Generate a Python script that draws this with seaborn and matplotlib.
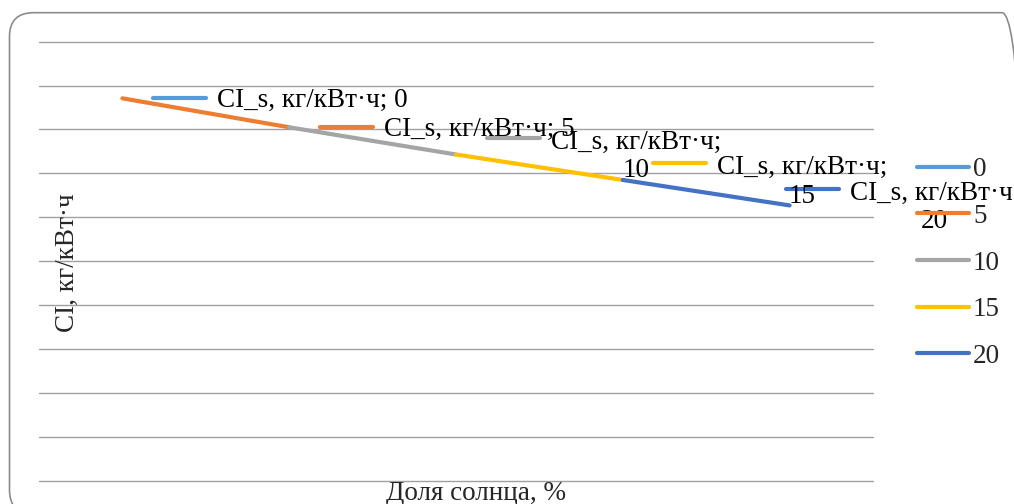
import numpy as np
import pandas as pd
import matplotlib
matplotlib.use("Agg")
import matplotlib.pyplot as plt
import seaborn as sns
from matplotlib.lines import Line2D
from matplotlib.patches import FancyBboxPatch
from matplotlib.transforms import IdentityTransform

# data (y scale is unlabeled, estimated on a 0..1 grid)
categories = ["0", "5", "10", "15", "20"]
ci_values = [0.871, 0.805, 0.743, 0.685, 0.627]
series_name = "CI_s, кг/кВт·ч"
colors = ["#5B9BD5", "#ED7D31", "#A5A5A5", "#FFC000", "#4472C4"]

sns.set_theme(style="white")
plt.rcParams["font.family"] = ["Liberation Serif", "DejaVu Serif"]
FS = 19.5

W, H, DPI = 1014, 504, 100
fig = plt.figure(figsize=(W / DPI, H / DPI), dpi=DPI)
ax = fig.add_axes([39 / W, 1 - 480.6 / H, (873 - 39) / W, (480.6 - 41.7) / H])

# each segment takes the colour of the point it ends on
rows = []
for i, cat in enumerate(categories):
    if i == 0:
        rows.append({"x": 0, "y": ci_values[0], "seg": cat})
    else:
        rows.append({"x": i - 1, "y": ci_values[i - 1], "seg": cat})
        rows.append({"x": i, "y": ci_values[i], "seg": cat})
df = pd.DataFrame(rows)
palette = dict(zip(categories, colors))
sns.lineplot(data=df, x="x", y="y", hue="seg", palette=palette, estimator=None,
             sort=False, linewidth=3, legend=False, ax=ax)

ax.set_xlim(-0.5, len(categories) - 0.5)
ax.set_ylim(0, 1.0)
ax.set_yticks(np.arange(0, 1.01, 0.1))
ax.set_xticks([])
ax.tick_params(left=False, labelleft=False, bottom=False, labelbottom=False)
ax.grid(axis="y", color="#a0a0a0", linewidth=1)
for gl in ax.get_ygridlines():
    gl.set_clip_on(False)
ax.set_xlabel("")
ax.set_ylabel("")
for s in ax.spines.values():
    s.set_visible(False)
ax.set_facecolor("none")

# data labels: legend key + "series; category", block centred on the point
fig.canvas.draw()
label_dx = [31, 31, 31, 30, -4]
line_h = 33
for i, cat in enumerate(categories):
    px, py = ax.transData.transform((i, ci_values[i]))
    two_lines = i >= 2
    first_y = py + (line_h / 2 if two_lines else 0)
    kx = px + label_dx[i]
    fig.add_artist(Line2D([kx, kx + 53], [first_y, first_y], color=colors[i],
                          linewidth=3, transform=IdentityTransform()))
    if two_lines:
        txt = f"{series_name};\n{cat}"
    else:
        txt = f"{series_name}; {cat}"
    fig.text(kx + 64, py - 2, txt, transform=IdentityTransform(), ha="left",
             va="center", multialignment="center", fontsize=FS,
             linespacing=1.2, color="black")

handles = [Line2D([], [], color=c, linewidth=3) for c in colors]
fig.legend(handles, categories, loc="center left",
           bbox_to_anchor=(893 / W, 1 - 263 / H), frameon=False, fontsize=FS,
           handlelength=1.9, handletextpad=0.15, labelspacing=0.8)

fig.text(67 / W, 1 - 263 / H, "CI, кг/кВт·ч", rotation=90, ha="center",
         va="center", fontsize=FS)
fig.text(476 / W, 1 - 493 / H, "Доля солнца, %", ha="center", va="center",
         fontsize=FS)

# rounded chart-area frame (runs off the right and bottom edges)
frame = FancyBboxPatch((9.5, H - 514), 1026 - 9.5, 514 - 12.7,
                       boxstyle="round,pad=0,rounding_size=24",
                       transform=IdentityTransform(), facecolor="none",
                       edgecolor="#8c8c8c", linewidth=1.2)
fig.add_artist(frame)

fig.savefig("out.png", dpi=DPI)
